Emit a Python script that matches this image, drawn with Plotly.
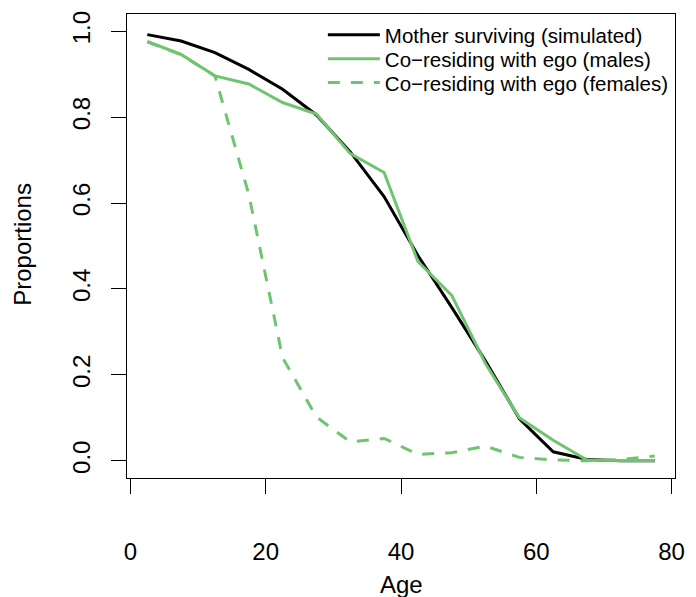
import plotly.graph_objects as go

age = [2.5, 7.5, 12.5, 17.5, 22.5, 27.5, 32.5, 37.5, 42.5, 47.5, 52.5, 57.5, 62.5, 67.5, 72.5, 77.5]
mother_surviving = [0.992, 0.977, 0.950, 0.911, 0.865, 0.805, 0.719, 0.615, 0.478, 0.357, 0.232, 0.098, 0.021, 0.003, 0.000, 0.000]
coresid_males = [0.976, 0.946, 0.896, 0.877, 0.834, 0.807, 0.715, 0.671, 0.464, 0.385, 0.226, 0.100, 0.048, 0.002, 0.001, 0.001]
coresid_females = [0.975, 0.945, 0.896, 0.620, 0.240, 0.102, 0.044, 0.052, 0.015, 0.019, 0.034, 0.008, 0.002, 0.000, 0.003, 0.011]

x_ticks = [0, 20, 40, 60, 80]
y_ticks = [0.0, 0.2, 0.4, 0.6, 0.8, 1.0]
y_ticklabels = ["0.0", "0.2", "0.4", "0.6", "0.8", "1.0"]

GREEN = "rgb(112,196,112)"
FONT = "Liberation Sans, Arial, Helvetica, sans-serif"

fig = go.Figure()
fig.add_trace(go.Scatter(x=age, y=mother_surviving, mode="lines",
                         name="Mother surviving (simulated)", legend="legend",
                         line=dict(color="black", width=3)))
fig.add_trace(go.Scatter(x=age, y=coresid_males, mode="lines",
                         name="Co\u2212residing with ego (males)", legend="legend2",
                         line=dict(color=GREEN, width=3)))
fig.add_trace(go.Scatter(x=age, y=coresid_females, mode="lines",
                         name="Co\u2212residing with ego (females)", legend="legend3",
                         line=dict(color=GREEN, width=3, dash="12px,11px")))

W, H = 696, 597
L, R, T, B = 126.6, 11.5, 11, 119
PW, PH = W - L - R, H - T - B


def leg(top_px):
    return dict(x=(326 - L) / PW, y=(H - B - top_px) / PH, xanchor="left", yanchor="top",
                bgcolor="rgba(0,0,0,0)", borderwidth=0,
                font=dict(size=20.5, family=FONT, color="black"),
                tracegroupgap=0, itemwidth=52)


fig.update_layout(
    width=W, height=H,
    margin=dict(l=L, r=R, t=T, b=B, pad=0),
    paper_bgcolor="white", plot_bgcolor="white",
    font=dict(family=FONT, color="black", size=24),
    showlegend=True,
    legend=leg(12), legend2=leg(36), legend3=leg(60),
    xaxis=dict(range=[-0.5, 80.5], tickvals=x_ticks, ticktext=[str(v) for v in x_ticks],
               showgrid=False, zeroline=False,
               showline=True, linecolor="black", linewidth=1, mirror=True,
               ticks="outside", ticklen=15, tickwidth=1, tickcolor="black",
               tickfont=dict(size=24), ticklabelstandoff=37),
    yaxis=dict(range=[-0.04, 1.04], tickvals=y_ticks, ticktext=y_ticklabels,
               showgrid=False, zeroline=False,
               showline=True, linecolor="black", linewidth=1, mirror=True,
               ticks="outside", ticklen=15, tickwidth=1, tickcolor="black",
               tickfont=dict(size=24), tickangle=-90, ticklabelstandoff=11),
    annotations=[
        dict(text="Age", xref="paper", yref="paper", x=0.5, y=(H - B - 585) / PH,
             xanchor="center", yanchor="middle", showarrow=False, font=dict(size=24)),
        dict(text="Proportions", xref="paper", yref="paper", x=(20 - L) / PW, y=(H - B - 243) / PH,
             xanchor="center", yanchor="middle", textangle=-90, showarrow=False, font=dict(size=24)),
    ],
)

fig.write_html("out.html")
